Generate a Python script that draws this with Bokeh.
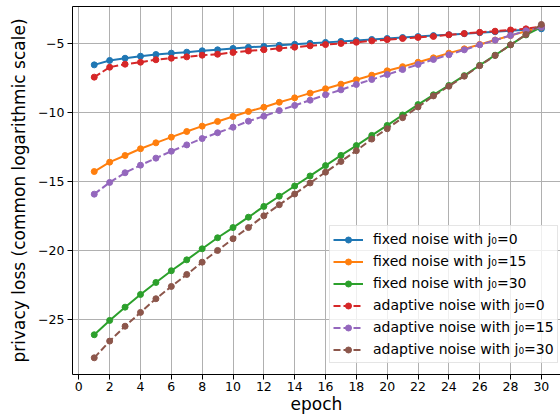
from bokeh.plotting import figure
from bokeh.models import FixedTicker, LinearAxis, Range1d, Legend, LegendItem
from bokeh.embed import file_html
from bokeh.resources import INLINE

epochs = list(range(1, 31))

fixed_j0_0 = [-6.57, -6.25, -6.09, -5.94, -5.82, -5.72, -5.65, -5.55, -5.48, -5.38,
              -5.30, -5.23, -5.15, -5.08, -5.01, -4.94, -4.87, -4.80, -4.73, -4.66,
              -4.59, -4.52, -4.45, -4.38, -4.31, -4.24, -4.17, -4.10, -4.03, -3.96]
fixed_j0_15 = [-14.30, -13.62, -13.14, -12.65, -12.22, -11.81, -11.40, -11.01, -10.67, -10.31,
               -9.95, -9.64, -9.28, -8.96, -8.62, -8.30, -7.97, -7.65, -7.32, -7.00,
               -6.70, -6.38, -6.06, -5.72, -5.41, -5.09, -4.77, -4.45, -4.13, -3.84]
fixed_j0_30 = [-26.13, -25.09, -24.13, -23.21, -22.34, -21.49, -20.70, -19.90, -19.10, -18.36,
               -17.61, -16.83, -16.09, -15.35, -14.62, -13.87, -13.13, -12.42, -11.68, -10.96,
               -10.20, -9.45, -8.74, -8.06, -7.35, -6.60, -5.87, -5.12, -4.40, -3.84]
adaptive_j0_0 = [-7.46, -6.74, -6.52, -6.38, -6.20, -6.09, -5.99, -5.87, -5.80, -5.67,
                 -5.56, -5.47, -5.38, -5.29, -5.19, -5.10, -5.02, -4.93, -4.83, -4.74,
                 -4.66, -4.58, -4.51, -4.39, -4.30, -4.21, -4.13, -4.04, -3.96, -3.79]
adaptive_j0_15 = [-15.94, -15.09, -14.39, -13.84, -13.33, -12.83, -12.37, -11.91, -11.49, -11.09,
                  -10.65, -10.29, -9.88, -9.51, -9.13, -8.74, -8.38, -7.99, -7.63, -7.27,
                  -6.91, -6.54, -6.18, -5.84, -5.48, -5.12, -4.78, -4.44, -4.10, -3.84]
adaptive_j0_30 = [-27.80, -26.59, -25.51, -24.51, -23.52, -22.63, -21.76, -20.87, -20.02, -19.17,
                  -18.36, -17.51, -16.71, -15.93, -15.13, -14.35, -13.57, -12.79, -11.95, -11.20,
                  -10.40, -9.62, -8.82, -8.12, -7.39, -6.63, -5.89, -5.12, -4.37, -3.64]

labels = ["fixed noise with j\u2080=0", "fixed noise with j\u2080=15", "fixed noise with j\u2080=30",
          "adaptive noise with j\u2080=0", "adaptive noise with j\u2080=15", "adaptive noise with j\u2080=30"]
series = [fixed_j0_0, fixed_j0_15, fixed_j0_30, adaptive_j0_0, adaptive_j0_15, adaptive_j0_30]
colors = ["#1f77b4", "#ff7f0e", "#2ca02c", "#d62728", "#9467bd", "#8c564b"]
dashes = ["solid", "solid", "solid", "7 3", "7 3", "7 3"]

x_ticks = list(range(0, 31, 2))
y_ticks = [-25, -20, -15, -10, -5]

FONT = "DejaVu Sans"

p = figure(width=560, height=420,
           x_range=Range1d(-0.41, 31.24), y_range=Range1d(-29.01, -2.34),
           output_backend="svg", toolbar_location=None,
           min_border_left=72, min_border_right=0, min_border_top=6, min_border_bottom=46)
p.outline_line_color = None
p.background_fill_color = "white"

items = []
for lab, ys, c, d in zip(labels, series, colors, dashes):
    r1 = p.line(epochs, ys, line_color=c, line_width=2, line_dash=d)
    r2 = p.scatter(epochs, ys, size=6, fill_color=c, line_color=c)
    items.append(LegendItem(label=lab, renderers=[r1, r2]))

legend = Legend(items=items, location=(257, 11), margin=0, padding=3,
                spacing=2, label_height=20, glyph_height=15, glyph_width=30,
                label_standoff=10, label_text_font=FONT, label_text_font_size="14px",
                label_text_color="black",
                border_line_color="#cccccc", border_line_width=1,
                background_fill_color="white", background_fill_alpha=0.8)
p.add_layout(legend, "center")

for ax in [p.xaxis[0], p.yaxis[0]]:
    ax.axis_line_color = "black"
    ax.axis_line_width = 1
    ax.major_tick_line_color = "black"
    ax.major_tick_out = 5
    ax.major_tick_in = 0
    ax.minor_tick_line_color = None
    ax.major_label_text_font = FONT
    ax.major_label_text_font_size = "12.5px"
    ax.major_label_text_color = "black"
    ax.axis_label_text_font = FONT
    ax.axis_label_text_font_size = "17px"
    ax.axis_label_text_font_style = "normal"
    ax.axis_label_text_color = "black"

p.xaxis.ticker = FixedTicker(ticks=x_ticks)
p.yaxis.ticker = FixedTicker(ticks=y_ticks)
p.yaxis.major_label_overrides = {t: "\u2212" + str(abs(t)) for t in y_ticks}
p.xaxis.axis_label = "epoch"
p.yaxis.axis_label = "privacy loss (common logarithmic scale)"
p.xaxis.major_label_standoff = 2
p.xaxis.axis_label_standoff = 0
p.yaxis.major_label_standoff = 3
p.yaxis.axis_label_standoff = 6

top = LinearAxis(ticker=FixedTicker(ticks=[]), major_label_text_font_size="0px",
                 major_tick_out=0, minor_tick_out=0, major_tick_in=0, minor_tick_in=0,
                 major_label_standoff=0, axis_line_color="black", axis_line_width=1)
p.add_layout(top, "above")

p.xgrid.ticker = FixedTicker(ticks=x_ticks)
p.ygrid.ticker = FixedTicker(ticks=y_ticks)
p.xgrid.grid_line_color = "#b0b0b0"
p.ygrid.grid_line_color = "#b0b0b0"
p.xgrid.grid_line_width = 1
p.ygrid.grid_line_width = 1

open("out.html", "w").write(file_html(p, INLINE))
